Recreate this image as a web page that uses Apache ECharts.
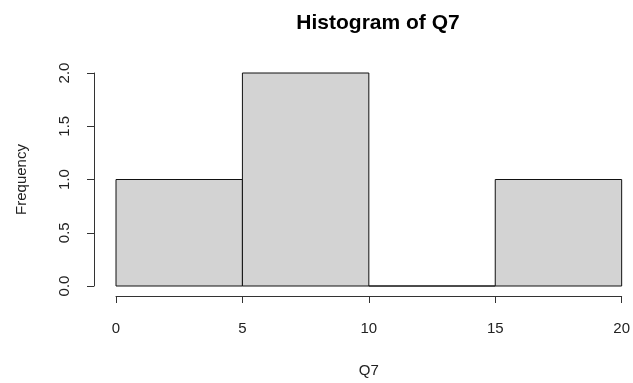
<!DOCTYPE html>
<html><head><meta charset="utf-8">
<script src="https://cdn.jsdelivr.net/npm/echarts@6/dist/echarts.min.js"></script>
<style>html,body{margin:0;padding:0;background:#fff}#c{width:633px;height:383px}</style>
</head><body><div id="c"></div>
<script>
const binStarts = [0, 5, 10, 15];
const binEnds = [5, 10, 15, 20];
const counts = [1, 2, 0, 1];
const xTicks = [0, 5, 10, 15, 20];
const yTicks = [0, 0.5, 1.0, 1.5, 2.0];

const data = binStarts.map((s, i) => [s, binEnds[i], counts[i]]);
const chart = echarts.init(document.getElementById('c'));
const font = 'Liberation Sans, Arial, sans-serif';
chart.setOption({
  animation: false,
  title: {text: 'Histogram of Q7', left: 373, top: 8, textAlign: 'center',
    textStyle: {fontFamily: font, fontSize: 21, fontWeight: 'bold', color: '#000'}},
  grid: {left: 116, right: 11, top: 73, bottom: 95},
  xAxis: {type: 'value', min: xTicks[0], max: xTicks[xTicks.length - 1], interval: 5, offset: 10,
    name: 'Q7', nameLocation: 'middle', nameGap: 67,
    nameTextStyle: {fontFamily: font, fontSize: 15, color: '#222'},
    axisLine: {show: true, onZero: false, lineStyle: {color: '#333', width: 1}},
    axisTick: {show: true, length: 7, lineStyle: {color: '#333'}},
    axisLabel: {margin: 25, fontFamily: font, fontSize: 15, color: '#222',
      showMinLabel: true, showMaxLabel: true},
    splitLine: {show: false}},
  yAxis: {type: 'value', min: yTicks[0], max: yTicks[yTicks.length - 1], interval: 0.5, offset: 22,
    name: 'Frequency', nameLocation: 'middle', nameGap: 65, nameRotate: 90,
    nameTextStyle: {fontFamily: font, fontSize: 15, color: '#222'},
    axisLine: {show: true, onZero: false, lineStyle: {color: '#333', width: 1}},
    axisTick: {show: true, length: 7, lineStyle: {color: '#333'}},
    axisLabel: {margin: 22, rotate: 90, fontFamily: font, fontSize: 15, color: '#222',
      formatter: v => v.toFixed(1)},
    splitLine: {show: false}},
  series: [{
    type: 'custom',
    data: data,
    encode: {x: [0, 1], y: 2},
    renderItem: function (params, api) {
      const p0 = api.coord([api.value(0), 0]);
      const p1 = api.coord([api.value(1), api.value(2)]);
      return {type: 'rect',
        shape: {x: p0[0], y: p1[1], width: p1[0] - p0[0], height: p0[1] - p1[1]},
        style: {fill: '#d3d3d3', stroke: '#111', lineWidth: 1}};
    }
  }]
});
</script></body></html>
